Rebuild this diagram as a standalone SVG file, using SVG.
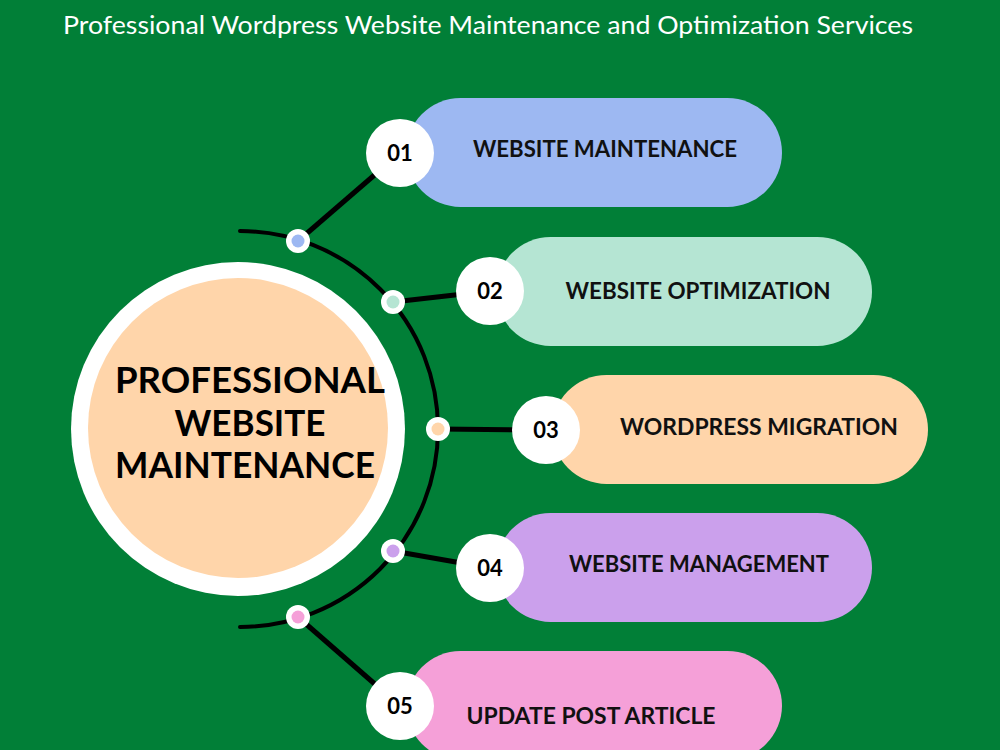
<svg xmlns="http://www.w3.org/2000/svg" width="1000" height="750" viewBox="0 0 1000 750">
<style>
.bg{fill:#017F37}
.title{font-family:Lato,"Liberation Sans",sans-serif;font-size:25px;fill:#ffffff;text-anchor:middle}
.center{font-family:Lato,"Liberation Sans",sans-serif;font-weight:bold;font-size:37px;fill:#000;text-anchor:middle}
.lbl{font-family:Lato,"Liberation Sans",sans-serif;font-weight:bold;font-size:23px;fill:#111;text-anchor:middle}
.num{font-family:Lato,"Liberation Sans",sans-serif;font-weight:bold;font-size:22px;fill:#000;text-anchor:middle}
.line{stroke:#000;stroke-width:5;fill:none}
.arc{stroke:#000;stroke-width:4;fill:none;stroke-linecap:round}
.dotw{fill:#fff}
.numc{fill:#fff}
</style>
<rect class="bg" x="0" y="0" width="1000" height="750"/>
<text class="title" x="488" y="34" textLength="850" lengthAdjust="spacingAndGlyphs">Professional Wordpress Website Maintenance and Optimization Services</text>

<g id="center-node">
<circle cx="238" cy="429" r="167" fill="#ffffff"/>
<circle cx="238" cy="428" r="150" fill="#FFD5AA"/>
<text class="center" x="250" y="393" textLength="270" lengthAdjust="spacingAndGlyphs">PROFESSIONAL</text>
<text class="center" x="250" y="436" textLength="151" lengthAdjust="spacingAndGlyphs">WEBSITE</text>
<text class="center" x="245" y="478" textLength="260" lengthAdjust="spacingAndGlyphs">MAINTENANCE</text>
</g>

<g id="connectors">
<path class="arc" d="M240 231 A198 198 0 0 1 240 627"/>
<line class="line" x1="298" y1="241" x2="400" y2="153"/>
<line class="line" x1="393" y1="302" x2="490" y2="291"/>
<line class="line" x1="438" y1="429" x2="546" y2="430"/>
<line class="line" x1="393" y1="551" x2="490" y2="568"/>
<line class="line" x1="298" y1="617" x2="400" y2="706"/>
<circle class="dotw" cx="298" cy="241" r="12"/><circle cx="298" cy="241" r="6.5" fill="#9DB8F2"/>
<circle class="dotw" cx="393" cy="302" r="12"/><circle cx="393" cy="302" r="6.5" fill="#B5E5D3"/>
<circle class="dotw" cx="438" cy="429" r="12"/><circle cx="438" cy="429" r="6.5" fill="#FFD5AA"/>
<circle class="dotw" cx="393" cy="551" r="12"/><circle cx="393" cy="551" r="6.5" fill="#CBA0EC"/>
<circle class="dotw" cx="298" cy="617" r="12"/><circle cx="298" cy="617" r="6.5" fill="#F5A0D8"/>
</g>

<g id="node-01">
<rect x="406" y="98" width="376" height="109" rx="54.5" fill="#9DB8F2"/>
<circle class="numc" cx="400" cy="153" r="34"/>
<text class="num" x="400" y="161">01</text>
<text class="lbl" x="605" y="157" textLength="264" lengthAdjust="spacingAndGlyphs">WEBSITE MAINTENANCE</text>
</g>
<g id="node-02">
<rect x="496" y="237" width="376" height="109" rx="54.5" fill="#B5E5D3"/>
<circle class="numc" cx="490" cy="291" r="34"/>
<text class="num" x="490" y="299">02</text>
<text class="lbl" x="698" y="299" textLength="265" lengthAdjust="spacingAndGlyphs">WEBSITE OPTIMIZATION</text>
</g>
<g id="node-03">
<rect x="552" y="375" width="376" height="109" rx="54.5" fill="#FFD5AA"/>
<circle class="numc" cx="546" cy="430" r="34"/>
<text class="num" x="546" y="438">03</text>
<text class="lbl" x="759" y="435" textLength="278" lengthAdjust="spacingAndGlyphs">WORDPRESS MIGRATION</text>
</g>
<g id="node-04">
<rect x="496" y="513" width="376" height="109" rx="54.5" fill="#CBA0EC"/>
<circle class="numc" cx="490" cy="568" r="34"/>
<text class="num" x="490" y="576">04</text>
<text class="lbl" x="699" y="572" textLength="260" lengthAdjust="spacingAndGlyphs">WEBSITE MANAGEMENT</text>
</g>
<g id="node-05">
<rect x="406" y="651" width="376" height="109" rx="54.5" fill="#F5A0D8"/>
<circle class="numc" cx="400" cy="706" r="34"/>
<text class="num" x="400" y="714">05</text>
<text class="lbl" x="591" y="724" textLength="249" lengthAdjust="spacingAndGlyphs">UPDATE POST ARTICLE</text>
</g>
</svg>
